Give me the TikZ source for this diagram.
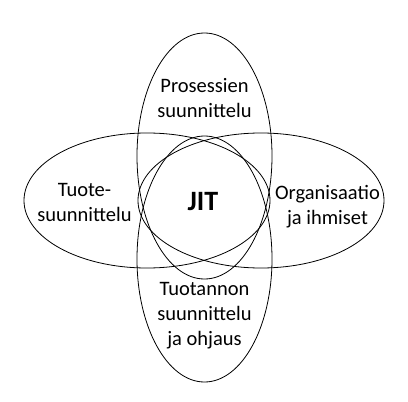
\documentclass[tikz,border=0pt]{standalone}
\usepackage{fontspec}
\setmainfont{Carlito}
\begin{document}
\begin{tikzpicture}[x=1pt,y=-1pt,
  ring/.style={draw=black,line width=0.8pt},
  lbl/.style={align=center,inner sep=0pt,anchor=base,font=\fontsize{20.5}{24.8}\selectfont},
  core/.style={inner sep=0pt,anchor=base,font=\fontsize{28}{32}\selectfont\bfseries}]
\useasboundingbox (0,0) rectangle (408,402);
% four overlapping ellipses
\draw[ring] (147,200.5) ellipse [x radius=123, y radius=67.5];
\draw[ring] (261,200.5) ellipse [x radius=123, y radius=67.5];
\draw[ring] (204.5,156) ellipse [x radius=67.5, y radius=123];
\draw[ring] (204.5,259) ellipse [x radius=67.5, y radius=123];
% labels (anchor = baseline of last line)
\node[lbl] (proc) at (204.5,117.3) {Prosessien\\suunnittelu};
\node[lbl] (prod) at (84.5,221) {Tuote-\\suunnittelu};
\node[lbl] (org) at (327.5,224.5) {Organisaatio\\ja ihmiset};
\node[lbl] (plan) at (204.5,345) {Tuotannon\\suunnittelu\\ja ohjaus};
\node[core] (jit) at (203,210.7) {JIT};
\end{tikzpicture}
\end{document}
